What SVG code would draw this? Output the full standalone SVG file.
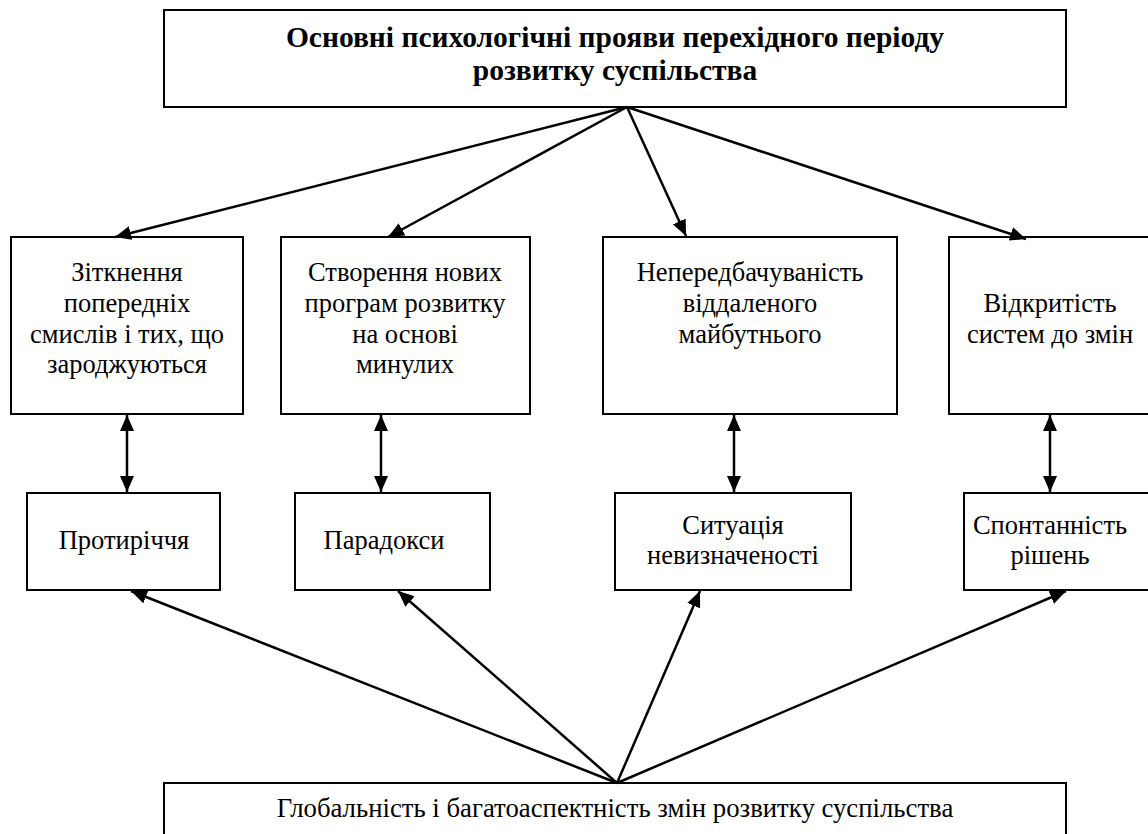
<svg xmlns="http://www.w3.org/2000/svg" width="1148" height="834" viewBox="0 0 1148 834">
<style>
.box{fill:#fff;stroke:#000;stroke-width:2}
.c{stroke:#000;stroke-width:2.5;fill:none}
</style>
<defs>
<marker id="ah" markerUnits="userSpaceOnUse" markerWidth="18" markerHeight="14" refX="16" refY="7" orient="auto">
<path d="M0,0 L16,7 L0,14 Z" fill="#000"/>
</marker>
<marker id="as" markerUnits="userSpaceOnUse" markerWidth="18" markerHeight="14" refX="0" refY="7" orient="auto">
<path d="M16,0 L0,7 L16,14 Z" fill="#000"/>
</marker>
</defs>
<rect width="1148" height="834" fill="#fff"/>
<g font-family="Liberation Serif" font-size="26.5" fill="#000" text-anchor="middle">
<g id="top">
<rect class="box" x="164" y="10" width="902" height="97"/>
<text font-weight="bold" font-size="29.5" x="615" y="47">Основні психологічні прояви перехідного періоду</text>
<text font-weight="bold" font-size="29.5" x="615" y="80">розвитку суспільства</text>
</g>
<g id="n1">
<rect class="box" x="11" y="237" width="232" height="177"/>
<text x="127" y="281">Зіткнення</text>
<text x="127" y="312">попередніх</text>
<text x="127" y="343">смислів і тих, що</text>
<text x="127" y="373">зароджуються</text>
</g>
<g id="n2">
<rect class="box" x="281" y="237" width="249" height="177"/>
<text x="405" y="281">Створення нових</text>
<text x="405" y="312">програм розвитку</text>
<text x="405" y="343">на основі</text>
<text x="405" y="373">минулих</text>
</g>
<g id="n3">
<rect class="box" x="603" y="237" width="294" height="177"/>
<text x="750" y="281">Непередбачуваність</text>
<text x="750" y="312">віддаленого</text>
<text x="750" y="343">майбутнього</text>
</g>
<g id="n4">
<rect class="box" x="949" y="237" width="210" height="177"/>
<text x="1050" y="312">Відкритість</text>
<text x="1050" y="343">систем до змін</text>
</g>
<g id="m1">
<rect class="box" x="27" y="493" width="193" height="97"/>
<text x="124" y="549">Протиріччя</text>
</g>
<g id="m2">
<rect class="box" x="295" y="493" width="195" height="97"/>
<text x="384" y="549">Парадокси</text>
</g>
<g id="m3">
<rect class="box" x="615" y="493" width="236" height="97"/>
<text x="733" y="534">Ситуація</text>
<text x="733" y="564">невизначеності</text>
</g>
<g id="m4">
<rect class="box" x="964" y="493" width="195" height="97"/>
<text x="1050" y="534">Спонтанність</text>
<text x="1050" y="564">рішень</text>
</g>
<g id="bottom">
<rect class="box" x="164" y="783" width="902" height="60"/>
<text font-size="26.75" x="615" y="817">Глобальність і багатоаспектність змін розвитку суспільства</text>
</g>
</g>
<g id="connectors">
<line class="c" x1="627" y1="107" x2="115" y2="237" marker-end="url(#ah)"/>
<line class="c" x1="627" y1="107" x2="388" y2="237" marker-end="url(#ah)"/>
<line class="c" x1="627" y1="107" x2="686" y2="236" marker-end="url(#ah)"/>
<line class="c" x1="627" y1="107" x2="1026" y2="239" marker-end="url(#ah)"/>
<line class="c" x1="127" y1="415" x2="127" y2="492" marker-start="url(#as)" marker-end="url(#ah)"/>
<line class="c" x1="381" y1="415" x2="381" y2="492" marker-start="url(#as)" marker-end="url(#ah)"/>
<line class="c" x1="734" y1="415" x2="734" y2="492" marker-start="url(#as)" marker-end="url(#ah)"/>
<line class="c" x1="1050" y1="415" x2="1050" y2="492" marker-start="url(#as)" marker-end="url(#ah)"/>
<line class="c" x1="617" y1="783" x2="131" y2="591" marker-end="url(#ah)"/>
<line class="c" x1="617" y1="783" x2="398" y2="591" marker-end="url(#ah)"/>
<line class="c" x1="617" y1="783" x2="700" y2="591" marker-end="url(#ah)"/>
<line class="c" x1="617" y1="783" x2="1066" y2="591" marker-end="url(#ah)"/>
</g>
</svg>
